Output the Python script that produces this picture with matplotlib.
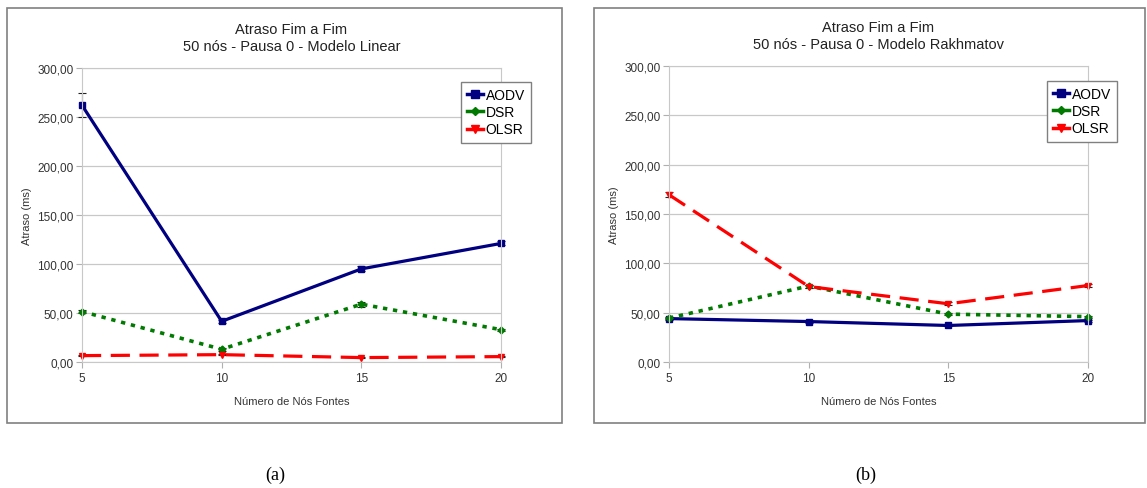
import matplotlib.pyplot as plt
from matplotlib.patches import Rectangle
from matplotlib.lines import Line2D
from matplotlib.ticker import FuncFormatter

plt.rcParams['font.family'] = ['Liberation Sans', 'DejaVu Sans']

fontes = [5, 10, 15, 20]

# (a) Modelo Linear
lin_aodv = [262, 41.5, 95, 121]
lin_aodv_err = [12, 1.5, 2.5, 2]
lin_dsr = [51.5, 13, 59, 33]
lin_dsr_err = [1.5, 1.5, 2.5, 1]
lin_olsr = [6.5, 7.5, 4.5, 5.5]
lin_olsr_err = [0.8, 0.8, 0.8, 0.8]

# (b) Modelo Rakhmatov
rak_aodv = [44, 41, 37, 42]
rak_aodv_err = [1, 1, 1, 1]
rak_dsr = [44.5, 77, 48.5, 46]
rak_dsr_err = [1, 1.5, 1, 1]
rak_olsr = [169.5, 76.5, 59, 77.5]
rak_olsr_err = [2.5, 1.5, 1.5, 1.5]

titulos = ['Atraso Fim a Fim\n50 nós - Pausa 0 - Modelo Linear',
           'Atraso Fim a Fim\n50 nós - Pausa 0 - Modelo Rakhmatov']
legendas = ['AODV', 'DSR', 'OLSR']
rotulos = ['(a)', '(b)']

fig = plt.figure(figsize=(11.47, 4.89), dpi=100)
W, H = 1147, 489

# molduras dos paineis
for x0, x1 in [(7, 562), (594, 1145)]:
    fig.add_artist(Rectangle((x0 / W, 1 - 424 / H), (x1 - x0) / W, (424 - 9) / H,
                             transform=fig.transFigure, fill=False,
                             edgecolor='#808080', lw=1.2))

estilos = [dict(color='#000080', ls='-', lw=2.3, marker='s', ms=5),
           dict(color='#007a00', ls=(0, (1.2, 1.6)), lw=2.6, marker='D', ms=3.5),
           dict(color='#ff0000', ls=(0, (6, 3)), lw=2.3, marker='v', ms=5)]

dados = [[(lin_aodv, lin_aodv_err), (lin_dsr, lin_dsr_err), (lin_olsr, lin_olsr_err)],
         [(rak_aodv, rak_aodv_err), (rak_dsr, rak_dsr_err), (rak_olsr, rak_olsr_err)]]

eixos = [(82, 501, 69, 363), (669, 1088, 67, 363)]
leg_pos = [(531, 83), (1117, 82)]
cap_x = [275, 866]
fmt = FuncFormatter(lambda v, p: f'{v:.2f}'.replace('.', ','))

for i, ax_px in enumerate(eixos):
    l, r, t, b = ax_px
    ax = fig.add_axes([l / W, 1 - b / H, (r - l) / W, (b - t) / H])
    for (vals, err), st in zip(dados[i], estilos):
        eb = ax.errorbar(fontes, vals, yerr=err, capsize=3, ecolor='#222222',
                         elinewidth=0.8, capthick=0.8, **st)
        eb[0].set_clip_on(False)
        for c in eb[1]:
            c.set_clip_on(False)
        for c in eb[2]:
            c.set_clip_on(False)
    ax.set_xlim(5, 20)
    ax.set_ylim(0, 300)
    ax.set_xticks(fontes)
    ax.set_yticks(range(0, 301, 50))
    ax.yaxis.set_major_formatter(fmt)
    ax.grid(axis='y', color='#c8c8c8', lw=0.9)
    ax.set_axisbelow(True)
    for s in ax.spines.values():
        s.set_color('#c8c8c8')
    ax.tick_params(colors='#b0b0b0', labelcolor='#333333', labelsize=8.5, length=4)
    ax.tick_params(axis='y', pad=2)
    ax.set_title(titulos[i], fontsize=10.5, color='#222222', pad=13, linespacing=1.3)
    ax.set_xlabel('Número de Nós Fontes', fontsize=8, color='#333333', labelpad=8)
    ax.set_ylabel('Atraso (ms)', fontsize=8, color='#333333', labelpad=4)
    handles = [Line2D([], [], color=st['color'], ls='-', lw=2.5, marker=st['marker'],
                      ms=st['ms'] + 1) for st in estilos]
    lx, ly = leg_pos[i]
    leg = ax.legend(handles, legendas, loc='upper right', bbox_to_anchor=(lx / W, 1 - ly / H),
                    bbox_transform=fig.transFigure, borderaxespad=0, fontsize=10,
                    handlelength=1.1, handletextpad=0.2, borderpad=0.45, labelspacing=0.22,
                    fancybox=False, edgecolor='#808080', framealpha=1)
    leg.get_frame().set_linewidth(1)
    fig.text(cap_x[i] / W, 1 - 475 / H, rotulos[i],
             family='Liberation Serif', fontsize=13, ha='center', va='center')

fig.savefig('out.png', dpi=100)
